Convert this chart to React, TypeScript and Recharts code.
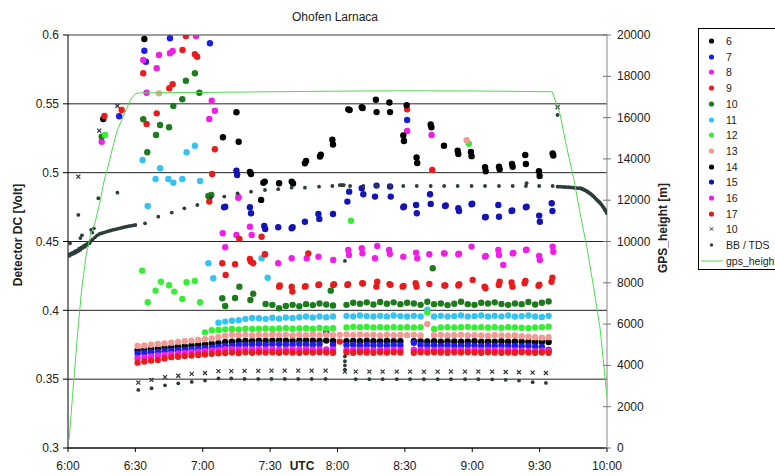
import React from 'react';
import { ScatterChart, Scatter, XAxis, YAxis, CartesianGrid, ReferenceLine } from 'recharts';

// ---- axes ----
const X_TICKS = [0, 30, 60, 90, 120, 150, 180, 210, 240];
const X_TICK_LABELS = ['6:00', '6:30', '7:00', '7:30', '8:00', '8:30', '9:00', '9:30', '10:00'];
const Y_TICKS = [0.3, 0.35, 0.4, 0.45, 0.5, 0.55, 0.6];
const Y2_TICKS = [0, 2000, 4000, 6000, 8000, 10000, 12000, 14000, 16000, 18000, 20000];

// ---- band sample times (minutes after 6:00) ----
const T_BAND = [31, 34, 37, 40, 43, 46, 49, 52, 55, 58, 61, 64, 67, 70, 73, 76, 79, 82, 85, 88, 91, 94, 97, 100, 103, 106, 109, 112, 115, 118, 121, 124, 127, 130, 133, 136, 139, 142, 145, 148, 151, 154, 157, 160, 163, 166, 169, 172, 175, 178, 181, 184, 187, 190, 193, 196, 199, 202, 205, 208, 211, 214];

const BAND_6 = [0.3710, 0.3715, 0.3720, 0.3722, 0.3728, 0.3732, 0.3735, 0.3740, 0.3745, 0.3750,
  0.3752, 0.3758, 0.3762, 0.3770, 0.3772, 0.3775, 0.3778, 0.3778, 0.3780, 0.3778,
  0.3780, 0.3782, 0.3780, 0.3778, 0.3780, 0.3782, 0.3780, 0.3778, 0.3780, 0.3778,
  null, 0.3775, 0.3778, 0.3776, 0.3778, 0.3775, 0.3776, 0.3778, 0.3776, 0.3775,
  null, 0.3775, 0.3776, 0.3774, 0.3775, 0.3773, 0.3776, 0.3774, 0.3772, 0.3774,
  0.3775, 0.3772, 0.3774, 0.3773, 0.3775, 0.3772, 0.3774, 0.3773, 0.3772, 0.3770,
  0.3772, 0.3770];
const BAND_7 = [0.3686, 0.3690, 0.3695, 0.3700, 0.3703, 0.3708, 0.3710, 0.3714, 0.3718, 0.3722,
  0.3726, 0.3730, 0.3735, 0.3742, 0.3745, 0.3748, 0.3750, 0.3752, 0.3755, 0.3750,
  0.3753, 0.3755, 0.3752, 0.3750, 0.3755, 0.3752, 0.3750, 0.3753, 0.3838, 0.3750,
  null, 0.3748, 0.3750, 0.3745, 0.3748, 0.3746, 0.3748, 0.3745, 0.3748, 0.3746,
  null, 0.3765, 0.3748, 0.3745, 0.3746, 0.3744, 0.3746, 0.3742, 0.3744, 0.3746,
  0.3744, 0.3742, 0.3745, 0.3742, 0.3744, 0.3742, 0.3744, 0.3740, 0.3742, 0.3738,
  0.3735, 0.3712];
const BAND_8 = [0.3652, 0.3658, 0.3665, 0.3672, 0.3676, 0.3682, 0.3686, 0.3690, 0.3695, 0.3700,
  0.3705, 0.3708, 0.3712, 0.3717, 0.3718, 0.3715, 0.3718, 0.3716, 0.3718, 0.3715,
  0.3717, 0.3714, 0.3716, 0.3718, 0.3715, 0.3717, 0.3714, 0.3716, 0.3715, 0.3716,
  null, 0.3712, 0.3714, 0.3712, 0.3714, 0.3711, 0.3713, 0.3712, 0.3714, 0.3712,
  null, 0.3714, 0.3712, 0.3713, 0.3711, 0.3714, 0.3712, 0.3710, 0.3713, 0.3711,
  0.3712, 0.3710, 0.3713, 0.3711, 0.3712, 0.3710, 0.3708, 0.3706, 0.3705, 0.3704,
  0.3706, 0.3705];
const BAND_9 = [0.3620, 0.3628, 0.3635, 0.3640, 0.3650, 0.3660, 0.3663, 0.3668, 0.3672, 0.3676,
  0.3680, 0.3685, 0.3688, 0.3690, 0.3693, 0.3690, 0.3695, 0.3692, 0.3696, 0.3693,
  0.3695, 0.3692, 0.3696, 0.3694, 0.3692, 0.3695, 0.3693, 0.3696, 0.3694, 0.3692,
  0.3773, 0.3695, 0.3692, 0.3696, 0.3694, 0.3692, 0.3695, 0.3693, 0.3696, 0.3694,
  null, 0.3692, 0.3695, 0.3693, 0.3696, 0.3694, 0.3692, 0.3695, 0.3693, 0.3696,
  0.3694, 0.3692, 0.3695, 0.3693, 0.3691, 0.3694, 0.3692, 0.3695, 0.3693, 0.3691,
  0.3694, 0.3692];
const BAND_13 = [0.3741, 0.3745, 0.3750, 0.3755, 0.3760, 0.3765, 0.3771, 0.3775, 0.3780, 0.3785,
  0.3790, 0.3795, 0.3805, 0.3815, 0.3822, 0.3820, 0.3822, 0.3818, 0.3822, 0.3820,
  0.3824, 0.3820, 0.3822, 0.3818, 0.3822, 0.3820, 0.3824, 0.3820, 0.3822, 0.3820,
  0.3822, 0.3825, 0.3822, 0.3824, 0.3820, 0.3822, 0.3818, 0.3822, 0.3820, 0.3822,
  0.3820, 0.3822, 0.3818, 0.3901, 0.3820, 0.3822, 0.3818, 0.3820, 0.3822, 0.3818,
  0.3820, 0.3818, 0.3815, 0.3820, 0.3818, 0.3815, 0.3818, 0.3812, 0.3808, 0.3805,
  0.3802, 0.3805];
const BAND_12 = [null, null, null, null, null, null, null, null, null, null,
  0.3840, 0.3855, 0.3858, 0.3862, 0.3865, 0.3862, 0.3866, 0.3864, 0.3866, 0.3868,
  0.3865, 0.3868, 0.3870, 0.3866, 0.3868, 0.3870, 0.3866, 0.3872, 0.3868, 0.3870,
  null, 0.3876, 0.3880, 0.3878, 0.3880, 0.3876, 0.3878, 0.3875, 0.3878, 0.3876,
  0.3878, 0.3875, 0.3878, 0.3985, 0.3865, 0.3876, 0.3878, 0.3875, 0.3877, 0.3880,
  0.3876, 0.3878, 0.3875, 0.3877, 0.3874, 0.3878, 0.3876, 0.3874, 0.3872, 0.3875,
  0.3878, 0.3882];
const BAND_11 = [null, null, null, null, null, null, null, null, null, null,
  null, null, 0.3910, 0.3918, 0.3925, 0.3928, 0.3938, 0.3945, 0.3942, 0.3938,
  0.3946, 0.3940, 0.3948, 0.3945, 0.3950, 0.3955, 0.3948, 0.3955, 0.3950, 0.3955,
  null, 0.3960, 0.3955, 0.3962, 0.3958, 0.3955, 0.3960, 0.3956, 0.3962, 0.3958,
  0.3955, 0.3960, 0.3956, 0.4005, 0.3955, 0.3960, 0.3955, 0.3958, 0.3962, 0.3955,
  0.3958, 0.3962, 0.3955, 0.3960, 0.3956, 0.3962, 0.3955, 0.3958, 0.3962, 0.3955,
  0.3952, 0.3960];
const BAND_10 = [null, null, null, null, null, null, null, null, null, null,
  null, null, null, null, null, null, null, null, null, 0.4046,
  0.4040, 0.4015, 0.4032, 0.4040, 0.4030, 0.4045, 0.4038, 0.4050, 0.4042, 0.4035,
  null, 0.4040, 0.4055, 0.4048, 0.4058, 0.4042, 0.4060, 0.4048, 0.4058, 0.4045,
  0.4055, 0.4050, 0.4040, 0.4062, 0.4045, 0.4050, 0.4038, 0.4048, 0.4062, 0.4045,
  0.4040, 0.4055, 0.4050, 0.4058, 0.4046, 0.4040, 0.4050, 0.4045, 0.4060, 0.4042,
  0.4055, 0.4065];

// ---- scattered points [minute, volt] ----
const EXTRA_6 = [[15.7, 0.5390], [34, 0.5971]];
const EXTRA_7 = [[22.8, 0.5410], [34, 0.5886], [34.7, 0.5806], [45.4, 0.5976], [63.2, 0.5940], [151, 0.5383]];
const EXTRA_8 = [[15, 0.5225], [33.5, 0.5818], [40.5, 0.5855], [39.5, 0.5758], [45.4, 0.5867], [46.6, 0.5884], [57, 0.5993], [64, 0.5523], [65.4, 0.5450], [62.9, 0.5390], [151, 0.5303], [161.9, 0.5274], [35, 0.5580]];
const EXTRA_9 = [[16.2, 0.5412], [23.9, 0.5455], [52.5, 0.5993], [51, 0.5891], [56.5, 0.5860], [57.5, 0.5842], [33.5, 0.5722], [46.6, 0.5642], [45.1, 0.5613], [39.5, 0.5431], [35, 0.5354], [65.4, 0.5170], [64.2, 0.4990], [62.9, 0.4790], [151, 0.5460], [162.2, 0.5020]];
const EXTRA_10 = [[15, 0.5262], [56.5, 0.5722], [52.5, 0.5668], [58.5, 0.5581], [50.9, 0.5533], [46.9, 0.5484], [33.5, 0.5388], [41, 0.5346], [45, 0.5330], [39.2, 0.5274], [35.3, 0.5148], [62.5, 0.4831], [63.8, 0.4838], [68.7, 0.4088], [70, 0.4032], [74.4, 0.4090], [76.3, 0.4172], [81.2, 0.4075], [82.5, 0.4120], [162.4, 0.4306], [117, 0.4143]];
const EXTRA_11 = [[33.2, 0.5092], [41, 0.5032], [39, 0.4954], [44.7, 0.4954], [46.9, 0.4927], [50.9, 0.4954], [52.8, 0.5148], [56.5, 0.5196], [58.8, 0.4940], [35.5, 0.4758], [62.5, 0.4342], [64.7, 0.4233], [86.2, 0.4378], [88.9, 0.4237]];
const EXTRA_12 = [[16.5, 0.5274], [33, 0.4288], [35.5, 0.4059], [39, 0.4143], [41.4, 0.4208], [45, 0.4182], [47.3, 0.4136], [50.9, 0.4083], [52.8, 0.4204], [56.5, 0.4213], [58.8, 0.4059], [126, 0.4651], [178.5, 0.5210]];
const EXTRA_13 = [[40.5, 0.5576], [177.5, 0.5235]];
const SERIES_14 = [[69, 0.5257], [75, 0.5439], [76, 0.5225], [81, 0.5005], [81.5, 0.4990], [86, 0.4802], [87, 0.4927], [87.6, 0.4935], [94, 0.4923], [99.6, 0.4935], [100.2, 0.4922], [105.5, 0.5068], [106, 0.5085], [112.2, 0.5117], [112.6, 0.5130], [117.7, 0.5240], [118, 0.5205], [124.8, 0.5460], [125.4, 0.5455], [130.8, 0.5475], [131.2, 0.5470], [137.1, 0.5530], [137.4, 0.5440], [143.1, 0.5510], [143.4, 0.5440], [150.8, 0.5490], [149.3, 0.5270], [149.6, 0.5230], [155.2, 0.5110], [155.5, 0.5070], [161.5, 0.5350], [161.8, 0.5330], [167.4, 0.5196], [173.5, 0.5160], [173.8, 0.5136], [179.4, 0.5150], [179.7, 0.5120], [185.7, 0.5040], [186, 0.5010], [191.9, 0.5043], [192.2, 0.5025], [197.7, 0.5063], [198, 0.5043], [203.6, 0.5128], [203.9, 0.5063], [209.7, 0.5010], [210, 0.4976], [215.8, 0.5140], [216.1, 0.5125]];
const SERIES_15 = [[69.5, 0.4749], [70, 0.4753], [75, 0.5014], [75.3, 0.4983], [81, 0.4749], [81.5, 0.4705], [87.4, 0.4613], [87.8, 0.4591], [93.6, 0.4603], [99.6, 0.4596], [100, 0.4604], [105.5, 0.4644], [111.5, 0.4700], [111.9, 0.4664], [118, 0.4700], [124.4, 0.4790], [125.2, 0.4862], [130.8, 0.4887], [131.5, 0.4843], [136.7, 0.4826], [137.4, 0.4906], [143.4, 0.4900], [143.7, 0.4826], [149.3, 0.4749], [149.6, 0.4755], [155, 0.4765], [155.3, 0.4705], [161.2, 0.4843], [161.5, 0.4773], [167.9, 0.4758], [168.2, 0.4762], [173.8, 0.4742], [174.1, 0.4722], [179.7, 0.4771], [180, 0.4775], [185.7, 0.4676], [186, 0.4678], [191.6, 0.4765], [191.9, 0.4680], [197.5, 0.4722], [197.8, 0.4725], [203.9, 0.4749], [204.2, 0.4752], [209.8, 0.4688], [210.1, 0.4644], [215.4, 0.4778], [215.7, 0.4722]];
const SERIES_16 = [[68.9, 0.4560], [70, 0.4458], [75, 0.4548], [75.8, 0.4818], [76, 0.4821], [81, 0.4608], [81.8, 0.4548], [87.7, 0.4410], [93.6, 0.4342], [99.6, 0.4378], [106.3, 0.4378], [111.5, 0.4390], [118.1, 0.4366], [124.8, 0.4439], [125.1, 0.4402], [130.8, 0.4451], [131.1, 0.4414], [136.7, 0.4378], [137.7, 0.4468], [143, 0.4439], [143.3, 0.4410], [149.3, 0.4390], [155, 0.4419], [155.5, 0.4378], [160.9, 0.4407], [167.4, 0.4414], [167.7, 0.4414], [173.8, 0.4407], [174.1, 0.4412], [179.7, 0.4463], [185.7, 0.4390], [186, 0.4395], [191.6, 0.4439], [191.9, 0.4402], [193.8, 0.4330], [198, 0.4414], [198.3, 0.4416], [203.9, 0.4439], [204.2, 0.4441], [209.8, 0.4395], [210.1, 0.4366], [215.8, 0.4463], [216.1, 0.4426]];
const SERIES_17 = [[68.7, 0.4342], [70.2, 0.4257], [74.4, 0.4335], [76.3, 0.4519], [81, 0.4373], [81.4, 0.4354], [82.5, 0.4342], [86.2, 0.4535], [87.7, 0.4405], [94, 0.4172], [94.3, 0.4180], [99.6, 0.4172], [99.9, 0.4136], [105.5, 0.4172], [105.8, 0.4176], [107, 0.4414], [111.5, 0.4184], [111.8, 0.4188], [118.1, 0.4184], [118.4, 0.4190], [124.4, 0.4184], [124.7, 0.4190], [131, 0.4197], [131.3, 0.4195], [137.3, 0.4172], [137.7, 0.4208], [143.2, 0.4190], [143.6, 0.4185], [149, 0.4172], [149.4, 0.4178], [154.8, 0.4197], [155.2, 0.4172], [160.9, 0.4192], [167.6, 0.4180], [168, 0.4180], [173.8, 0.4180], [174.2, 0.4190], [180.2, 0.4221], [185.5, 0.4172], [185.9, 0.4160], [191.8, 0.4184], [192.2, 0.4208], [197.5, 0.4202], [197.9, 0.4172], [203.3, 0.4197], [203.7, 0.4214], [209.5, 0.4178], [209.9, 0.4186], [215.3, 0.4208], [215.7, 0.4237]];
const SERIES_X10 = [[4.6, 0.4971], [13.9, 0.5305], [22, 0.5484], [31.3, 0.3475], [37.2, 0.3495], [43.2, 0.3515], [49.1, 0.3525], [55.1, 0.3538], [61, 0.3545], [67, 0.3558], [72.7, 0.3558], [78.6, 0.3560], [84.7, 0.3560], [90.6, 0.3562], [96.5, 0.3562], [102.5, 0.3562], [108.5, 0.3562], [114.7, 0.3562], [123.3, 0.3555], [128.1, 0.3555], [134.2, 0.3555], [140.1, 0.3555], [146.4, 0.3555], [152.3, 0.3555], [158.5, 0.3555], [164.6, 0.3555], [170.5, 0.3555], [176.8, 0.3555], [182.7, 0.3555], [188.9, 0.3555], [194.9, 0.3552], [200.8, 0.3550], [206.9, 0.3548], [212.8, 0.3545], [218, 0.5475]];
const SERIES_BB = [
  [0, 0.4402], [1, 0.4410], [2, 0.4418], [3, 0.4428], [4, 0.4436], [5, 0.4448], [6, 0.4458], [7, 0.4468], [8, 0.4478], [9, 0.4490], [10, 0.4500], [11, 0.4515], [12, 0.4530], [13, 0.4545], [14, 0.4555], [15, 0.4560], [16, 0.4565], [17, 0.4570], [18, 0.4575], [19, 0.4580], [20, 0.4584], [21, 0.4588], [22, 0.4592], [23, 0.4596], [24, 0.4600], [25, 0.4604], [26, 0.4608], [27, 0.4611], [28, 0.4614], [29, 0.4617], [30, 0.4620],
  [0.5, 0.4395], [1.5, 0.4405], [2.5, 0.4412], [3.5, 0.4420], [4.5, 0.4430], [5.5, 0.4440], [6.5, 0.4452], [7.5, 0.4462], [8.5, 0.4475], [9.5, 0.4486],
  [0.9, 0.4487], [5.5, 0.4525], [6.2, 0.4545], [10.3, 0.4585], [10.8, 0.4565], [11.5, 0.4596], [4.6, 0.4693], [13.5, 0.4814], [22, 0.4855],
  [34.3, 0.4632], [40.2, 0.4680], [46.2, 0.4710], [51.8, 0.4741], [57.6, 0.4765], [63.7, 0.4818], [69.6, 0.4826], [75.5, 0.4850], [81.5, 0.4862], [87.7, 0.4874], [93.6, 0.4880], [99.6, 0.4891], [105.5, 0.4891], [111.8, 0.4898], [117.7, 0.4903], [121, 0.4910], [121.6, 0.4910], [122.2, 0.4910], [122.8, 0.4910], [125.6, 0.4903], [131.5, 0.4903], [137.4, 0.4903], [143.4, 0.4903], [149.3, 0.4903], [155.3, 0.4903], [161.5, 0.4903], [167.5, 0.4903], [173.5, 0.4903], [179.7, 0.4903], [185.7, 0.4903], [191.9, 0.4903], [198, 0.4903], [203.9, 0.4903], [204.2, 0.4923], [209.8, 0.4903], [215.8, 0.4903],
  [31.3, 0.3422], [37.2, 0.3434], [43.2, 0.3455], [49.1, 0.3470], [55.1, 0.3480], [61, 0.3490], [67, 0.3505], [72.7, 0.3505], [78.6, 0.3502], [84.7, 0.3502], [90.6, 0.3502], [96.5, 0.3502], [102.5, 0.3502], [108.5, 0.3502], [114.7, 0.3502], [123.3, 0.3665], [123.3, 0.3630], [123.3, 0.3600], [123.3, 0.3570], [123.3, 0.4359], [128.1, 0.3500], [134.2, 0.3500], [140.1, 0.3500], [146.4, 0.3500], [152.3, 0.3500], [158.5, 0.3500], [164.6, 0.3500], [170.5, 0.3500], [176.8, 0.3500], [182.7, 0.3500], [188.9, 0.3498], [194.9, 0.3495], [200.8, 0.3490], [206.9, 0.3478], [212.8, 0.3473],
  [218, 0.5419],
  [218, 0.4898], [219, 0.4898], [220, 0.4897], [221, 0.4896], [222, 0.4895], [223, 0.4894], [224, 0.4893], [225, 0.4891], [226, 0.4889], [227, 0.4888], [228, 0.4887], [229, 0.4882], [230, 0.4874], [231, 0.4865], [232, 0.4854], [233, 0.4842], [234, 0.4828], [235, 0.4810], [236, 0.4795], [237, 0.4778], [238, 0.4757], [239, 0.4733], [240, 0.4705],
  [228.5, 0.4885], [229.5, 0.4878], [230.5, 0.4870], [231.5, 0.4860], [232.5, 0.4848], [233.5, 0.4835], [234.5, 0.4820], [235.5, 0.4803], [236.5, 0.4787], [237.5, 0.4768], [238.5, 0.4745], [239.5, 0.4720]
];
const GPS_HEIGHT = [[0.5, 400], [2, 2500], [4, 5200], [6, 7600], [8, 9300], [10, 10300], [12, 10900], [14, 11800], [16, 12900], [18, 13700], [20, 14600], [22, 15400], [24, 15900], [26, 16400], [28, 16900], [30, 17150], [32, 17200], [60, 17220], [90, 17250], [120, 17280], [150, 17300], [180, 17290], [200, 17270], [215.6, 17250], [219, 16210], [222, 14590], [225, 13140], [228, 11370], [231, 9750], [234, 7815], [237, 5720], [240, 2470]];

// ---- colours ----
const COL = {
  s6: '#000000', s7: '#1e1ee0', s8: '#f01ee6', s9: '#e81c1c', s10: '#1d7a1d', s11: '#35c3ef',
  s12: '#35ee35', s13: '#f29a94', s14: '#000000', s15: '#1414b4', s16: '#f01ee6', s17: '#e81c1c',
  x10: '#333333', bb: '#2e3c3c', gps: '#4fdc4f'
};

const fromBand = (vals: (number | null)[]) =>
  T_BAND.map((t, i) => ({ x: t, y: vals[i] })).filter((p) => p.y !== null);
const fromPairs = (list: number[][]) => list.map(([x, y]) => ({ x, y }));

const DATA = {
  s6: [...fromPairs(EXTRA_6), ...fromBand(BAND_6)],
  s7: [...fromPairs(EXTRA_7), ...fromBand(BAND_7)],
  s8: [...fromPairs(EXTRA_8), ...fromBand(BAND_8)],
  s9: [...fromPairs(EXTRA_9), ...fromBand(BAND_9)],
  s10: [...fromPairs(EXTRA_10), ...fromBand(BAND_10)],
  s11: [...fromPairs(EXTRA_11), ...fromBand(BAND_11)],
  s12: [...fromPairs(EXTRA_12), ...fromBand(BAND_12)],
  s13: [...fromPairs(EXTRA_13), ...fromBand(BAND_13)],
  s14: fromPairs(SERIES_14),
  s15: fromPairs(SERIES_15),
  s16: fromPairs(SERIES_16),
  s17: fromPairs(SERIES_17),
  x10: fromPairs(SERIES_X10),
  bb: fromPairs(SERIES_BB),
  gps: fromPairs(GPS_HEIGHT),
};

const dotShape = (color: string, r: number) => (p: any) =>
  p.cx == null ? <g /> : <circle cx={p.cx} cy={p.cy} r={r} fill={color} />;
const crossShape = (p: any) =>
  p.cx == null ? <g /> : (
    <path d={`M${p.cx - 2},${p.cy - 2}L${p.cx + 2},${p.cy + 2}M${p.cx - 2},${p.cy + 2}L${p.cx + 2},${p.cy - 2}`} stroke={COL.x10} strokeWidth={1.2} fill="none" />
  );
const noShape = () => <g />;

const RightTick = (p: any) => (
  <g>
    <line x1={p.x - 4} x2={p.x + 4} y1={p.y} y2={p.y} stroke="#777" />
    <text x={p.x + 10} y={p.y} dy={4} fontSize={12} fill="#222">{p.payload.value}</text>
  </g>
);

const LEGEND = [
  { name: '6', kind: 'dot', color: COL.s6 }, { name: '7', kind: 'dot', color: COL.s7 },
  { name: '8', kind: 'dot', color: COL.s8 }, { name: '9', kind: 'dot', color: COL.s9 },
  { name: '10', kind: 'dot', color: COL.s10 }, { name: '11', kind: 'dot', color: COL.s11 },
  { name: '12', kind: 'dot', color: COL.s12 }, { name: '13', kind: 'dot', color: COL.s13 },
  { name: '14', kind: 'dot', color: COL.s14 }, { name: '15', kind: 'dot', color: COL.s15 },
  { name: '16', kind: 'dot', color: COL.s16 }, { name: '17', kind: 'dot', color: COL.s17 },
  { name: '10', kind: 'x', color: COL.x10 }, { name: 'BB / TDS', kind: 'bb', color: COL.bb },
  { name: 'gps_height', kind: 'line', color: COL.gps },
];

const FONT = "'Liberation Sans', Arial, sans-serif";
const ORDER = ['s6', 's7', 's8', 's9', 's10', 's11', 's12', 's13', 's14', 's15', 's16', 's17'];

export default function App() {
  return (
    <div style={{ position: 'absolute', left: 0, top: 0, width: 775, height: 476, overflow: 'hidden', background: '#fff', fontFamily: FONT }}>
      <ScatterChart width={775} height={476} margin={{ top: 35, right: 0, bottom: 0, left: 0 }}>
        <CartesianGrid yAxisId="left" vertical={false} stroke="#222" />
        <XAxis type="number" dataKey="x" domain={[0, 240]} ticks={X_TICKS} allowDataOverflow
          tickFormatter={(v: number) => X_TICK_LABELS[X_TICKS.indexOf(v)]}
          height={28} stroke="#000" tickSize={4} tickMargin={9} tick={{ fontSize: 12, fill: '#222' }} />
        <YAxis yAxisId="left" type="number" dataKey="y" domain={[0.3, 0.6]} ticks={Y_TICKS} allowDataOverflow
          width={68} stroke="#000" tickSize={5} tickMargin={4} tick={{ fontSize: 12, fill: '#222' }}
          tickFormatter={(v: number) => String(v)} />
        <YAxis yAxisId="right" orientation="right" type="number" dataKey="y" domain={[0, 20000]} ticks={Y2_TICKS}
          allowDataOverflow width={168} stroke="#888" tickLine={false} tickSize={0} tickMargin={0} tick={<RightTick />} />
        <ReferenceLine yAxisId="left" y={0.6} stroke="#aaa" />
        {ORDER.map((k) => (
          <Scatter key={k} yAxisId="left" data={(DATA as any)[k]} shape={dotShape((COL as any)[k], 3.2)} isAnimationActive={false} />
        ))}
        <Scatter yAxisId="left" data={DATA.x10} shape={crossShape} isAnimationActive={false} />
        <Scatter yAxisId="left" data={DATA.bb} shape={dotShape(COL.bb, 1.9)} isAnimationActive={false} />
        <Scatter yAxisId="right" data={DATA.gps} line={{ stroke: COL.gps, strokeWidth: 1 }} shape={noShape} isAnimationActive={false} />
      </ScatterChart>

      <div style={{ position: 'absolute', left: 335, top: 17, transform: 'translate(-50%,-50%)', fontSize: 12, color: '#222', whiteSpace: 'nowrap' }}>Ohofen Larnaca</div>
      <div style={{ position: 'absolute', left: 18, top: 235, transform: 'translate(-50%,-50%) rotate(-90deg)', fontSize: 12, fontWeight: 'bold', color: '#222', whiteSpace: 'nowrap' }}>Detector DC [Volt]</div>
      <div style={{ position: 'absolute', left: 663, top: 228, transform: 'translate(-50%,-50%) rotate(-90deg)', fontSize: 12, fontWeight: 'bold', color: '#222', whiteSpace: 'nowrap' }}>GPS_height [m]</div>
      <div style={{ position: 'absolute', left: 302, top: 466, transform: 'translate(-50%,-50%)', fontSize: 12, fontWeight: 'bold', color: '#222', whiteSpace: 'nowrap' }}>UTC</div>

      <div style={{ position: 'absolute', left: 698, top: 28, width: 120, height: 242, border: '1px solid #000', boxSizing: 'border-box' }}>
        {LEGEND.map((item, i) => {
          const cy = 12 + i * 15.7;
          return (
            <div key={i} style={{ position: 'absolute', left: 0, top: cy - 7, height: 14, width: 110 }}>
              <svg width={26} height={14} style={{ position: 'absolute', left: 0, top: 0 }}>
                {item.kind === 'dot' && <circle cx={12.5} cy={7} r={2.6} fill={item.color} />}
                {item.kind === 'bb' && <circle cx={12.5} cy={7} r={1.7} fill={item.color} />}
                {item.kind === 'x' && <path d="M10.8,5.3L14.2,8.7M10.8,8.7L14.2,5.3" stroke={item.color} strokeWidth={1} />}
                {item.kind === 'line' && <line x1={2} x2={24} y1={7} y2={7} stroke={item.color} strokeWidth={1} />}
              </svg>
              <span style={{ position: 'absolute', left: 27, top: 0, lineHeight: '14px', fontSize: 10.5, color: '#222', whiteSpace: 'nowrap' }}>{item.name}</span>
            </div>
          );
        })}
      </div>
    </div>
  );
}
